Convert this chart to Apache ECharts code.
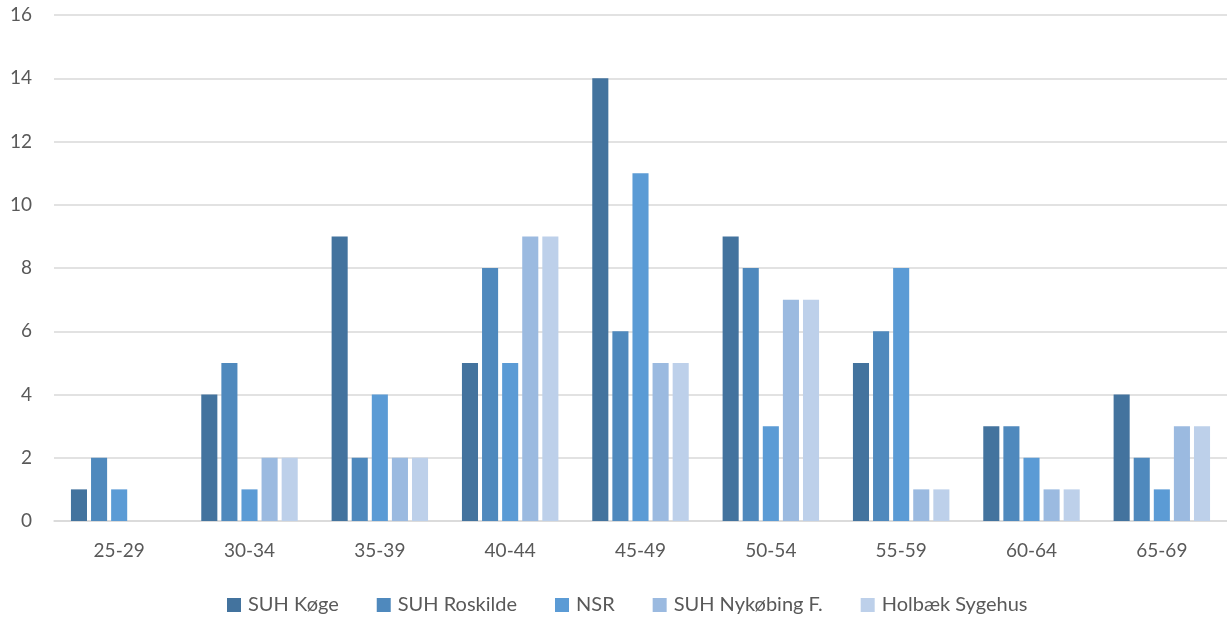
<!DOCTYPE html>
<html><head><meta charset="utf-8">
<script src="https://cdn.jsdelivr.net/npm/echarts@6/dist/echarts.min.js"></script>
<style>html,body{margin:0;padding:0;background:#fff}#c{width:1227px;height:620px}</style>
</head><body><div id="c"></div>
<script>
const categories = ['25-29','30-34','35-39','40-44','45-49','50-54','55-59','60-64','65-69'];
const seriesNames = ['SUH Køge','SUH Roskilde','NSR','SUH Nykøbing F.','Holbæk Sygehus'];
const koege = [1,4,9,5,14,9,5,3,4];
const roskilde = [2,5,2,8,6,8,6,3,2];
const nsr = [1,1,4,5,11,3,8,2,1];
const nykoebing = [0,2,2,9,5,7,1,1,3];
const holbaek = [0,2,2,9,5,7,1,1,3];
const yTicks = [0,2,4,6,8,10,12,14,16];
const colors = ['#43739E','#4F89BD','#5B9BD5','#9BBAE0','#BDD0EA'];
const values = [koege, roskilde, nsr, nykoebing, holbaek];
const font = 'Lato, sans-serif';
const chart = echarts.init(document.getElementById('c'));
chart.setOption({
  animation:false,
  color: colors,
  textStyle:{fontFamily:font},
  legend:{bottom:0,left:222,itemWidth:14,itemHeight:14,itemGap:38,icon:'rect',
    textStyle:{color:'#595959',fontSize:20,fontFamily:font,padding:[0,0,0,2]},data:seriesNames},
  grid:{left:54,right:0,top:15,bottom:99},
  xAxis:{type:'category',data:categories,
    axisLine:{lineStyle:{color:'#d9d9d9',width:1.5}},axisTick:{show:false},
    axisLabel:{color:'#595959',fontSize:19,margin:20,fontFamily:font}},
  yAxis:{type:'value',min:0,max:16,interval:2,
    axisLine:{show:false},axisTick:{show:false},
    splitLine:{lineStyle:{color:'#d9d9d9',width:1.5}},
    axisLabel:{color:'#595959',fontSize:19,margin:22,fontFamily:font}},
  series: seriesNames.map((n,i)=>({name:n,type:'bar',data:values[i],
    barGap:'25%',barCategoryGap:'26%',
    itemStyle:{color:colors[i]}}))
});
</script></body></html>
